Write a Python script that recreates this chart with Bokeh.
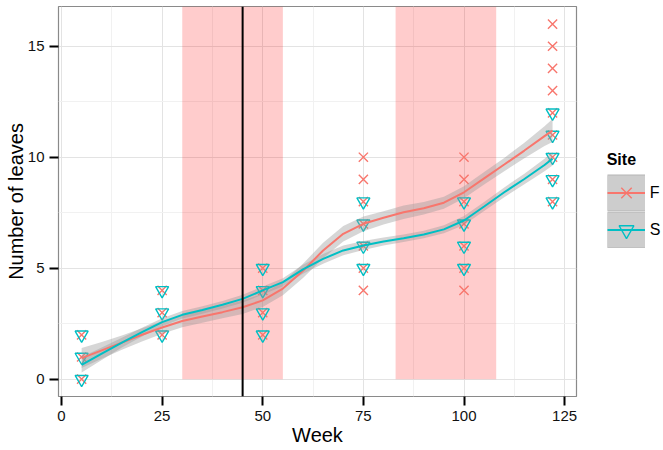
from bokeh.plotting import figure
from bokeh.layouts import row
from bokeh.models import Range1d, Span, Legend, LegendItem, FixedTicker
from bokeh.embed import file_html
from bokeh.resources import INLINE

# ---- data ----
f_week = [5, 5, 5,
          25, 25, 25,
          50, 50, 50, 50,
          75, 75, 75, 75, 75, 75, 75,
          100, 100, 100, 100, 100, 100, 100,
          122, 122, 122, 122, 122, 122, 122, 122, 122]
f_leaves = [0, 1, 2,
            2, 3, 4,
            2, 3, 4, 5,
            4, 5, 6, 7, 8, 9, 10,
            4, 5, 6, 7, 8, 9, 10,
            8, 9, 10, 11, 12, 13, 14, 15, 16]

s_week = [5, 5, 5,
          25, 25, 25,
          50, 50, 50, 50,
          75, 75, 75, 75,
          100, 100, 100, 100,
          122, 122, 122, 122, 122]
s_leaves = [0, 1, 2,
            2, 3, 4,
            2, 3, 4, 5,
            5, 6, 7, 8,
            5, 6, 7, 8,
            8, 9, 10, 11, 12]

smooth_week = [5, 10, 15, 20, 25, 30, 35, 40, 45, 50, 55, 60, 65, 70, 75,
               80, 85, 90, 95, 100, 105, 110, 115, 120, 122]
f_fit = [0.95, 1.30, 1.65, 2.00, 2.33, 2.62, 2.82, 3.02, 3.24, 3.55, 4.08, 4.88,
         5.80, 6.55, 7.00, 7.27, 7.52, 7.70, 7.95, 8.42, 9.05, 9.67, 10.30, 10.95, 11.20]
f_se = [0.45, 0.38, 0.32, 0.30, 0.28, 0.28, 0.28, 0.28, 0.30, 0.30, 0.30, 0.32,
        0.35, 0.35, 0.33, 0.30, 0.30, 0.28, 0.27, 0.27, 0.28, 0.30, 0.35, 0.45, 0.52]
s_fit = [0.65, 1.15, 1.65, 2.12, 2.57, 2.90, 3.12, 3.35, 3.62, 4.00, 4.37, 4.95,
         5.42, 5.80, 6.02, 6.20, 6.35, 6.52, 6.75, 7.15, 7.78, 8.42, 9.02, 9.65, 9.93]
s_se = [0.35, 0.28, 0.22, 0.20, 0.18, 0.17, 0.17, 0.17, 0.18, 0.18, 0.18, 0.20,
        0.22, 0.22, 0.20, 0.18, 0.17, 0.17, 0.18, 0.20, 0.20, 0.22, 0.24, 0.28, 0.30]

shade_start = [30, 83]
shade_end = [55, 108]
vline_week = 45

x_ticks = [0, 25, 50, 75, 100, 125]
y_ticks = [0, 5, 10, 15]
sites = ["F", "S"]

RED = "#F8766D"
TEAL = "#00BFC4"
FONT = "Liberation Sans"
NAN = float("nan")

y_lo, y_hi = -0.78, 16.79
p = figure(width=578, height=450, output_backend="svg", toolbar_location=None,
           x_range=Range1d(-0.745, 127.95), y_range=Range1d(y_lo, y_hi),
           min_border_left=58, min_border_right=2, min_border_top=6,
           min_border_bottom=54)

p.background_fill_color = "white"
p.border_fill_color = "white"
p.outline_line_color = "#8A8A8A"
p.outline_line_width = 1.2

# grid
p.xaxis.ticker = FixedTicker(ticks=x_ticks,
                             minor_ticks=[(a + b) / 2 for a, b in zip(x_ticks[:-1], x_ticks[1:])])
p.yaxis.ticker = FixedTicker(ticks=y_ticks,
                             minor_ticks=[(a + b) / 2 for a, b in zip(y_ticks[:-1], y_ticks[1:])])
for g in (p.xgrid, p.ygrid):
    g.grid_line_color = "#E3E3E3"
    g.grid_line_width = 1
    g.minor_grid_line_color = "#F1F1F1"
    g.minor_grid_line_width = 1

# axes
for ax in (p.xaxis, p.yaxis):
    ax.axis_line_color = None
    ax.major_tick_in = 0
    ax.major_tick_out = 9
    ax.major_tick_line_width = 2
    ax.major_tick_line_color = "black"
    ax.minor_tick_line_color = None
    ax.major_label_text_font = FONT
    ax.major_label_text_font_size = "15px"
    ax.major_label_text_color = "#111111"
    ax.axis_label_text_font = FONT
    ax.axis_label_text_font_size = "20px"
    ax.axis_label_text_font_style = "normal"
    ax.axis_label_text_color = "black"
p.xaxis.axis_label = "Week"
p.yaxis.axis_label = "Number of leaves"
p.xaxis.major_label_standoff = 5
p.xaxis.axis_label_standoff = 0
p.yaxis.major_label_standoff = 5
p.yaxis.axis_label_standoff = -2

# shaded periods
p.quad(left=shade_start, right=shade_end, bottom=0, top=y_hi,
       fill_color="red", fill_alpha=0.2, line_color=None)

# points
X_STYLE = dict(marker="x", size=13, line_color=RED, line_width=1.4)
T_STYLE = dict(marker="inverted_triangle", size=13, fill_color=None,
               line_color=TEAL, line_width=1.4)
p.scatter(f_week, f_leaves, **X_STYLE)
p.scatter(s_week, s_leaves, **T_STYLE)

# smooth bands and lines
f_lo = [m - e for m, e in zip(f_fit, f_se)]
f_hi = [m + e for m, e in zip(f_fit, f_se)]
s_lo = [m - e for m, e in zip(s_fit, s_se)]
s_hi = [m + e for m, e in zip(s_fit, s_se)]
p.varea(x=smooth_week, y1=f_lo, y2=f_hi, fill_color="#999999", fill_alpha=0.4)
p.varea(x=smooth_week, y1=s_lo, y2=s_hi, fill_color="#999999", fill_alpha=0.4)
p.line(smooth_week, f_fit, line_color=RED, line_width=2)
p.line(smooth_week, s_fit, line_color=TEAL, line_width=2)

# vertical marker
p.add_layout(Span(location=vline_week, dimension="height", line_color="black", line_width=2))

# ---- legend panel ----
q = figure(width=85, height=450, output_backend="svg", toolbar_location=None,
           x_range=Range1d(0, 1), y_range=Range1d(0, 1),
           x_axis_type=None, y_axis_type=None,
           min_border_left=0, min_border_right=0, min_border_top=0, min_border_bottom=0)
q.outline_line_color = None
q.background_fill_color = "white"
q.border_fill_color = "white"

items = []
for site, col, style in zip(sites, [RED, TEAL], [X_STYLE, T_STYLE]):
    k1 = q.line([NAN], [NAN], line_color="#B5B5B5", line_width=37)
    k2 = q.line([NAN], [NAN], line_color="#CDCDCD", line_width=35)
    ln = q.line([NAN], [NAN], line_color=col, line_width=2)
    mk = q.scatter([NAN], [NAN], **style)
    items.append(LegendItem(label=site, renderers=[k1, k2, ln, mk]))

legend = Legend(items=items, location=(28.7, 147.7))
legend.title = "Site"
legend.title_text_font = FONT
legend.title_text_font_style = "bold"
legend.title_text_font_size = "16px"
legend.title_text_color = "black"
legend.title_standoff = 5
legend.label_text_font = FONT
legend.label_text_font_size = "16px"
legend.label_text_color = "black"
legend.label_standoff = 5
legend.glyph_width = 38
legend.glyph_height = 37
legend.spacing = 0
legend.padding = 0
legend.margin = 0
legend.border_line_color = None
legend.background_fill_alpha = 0
q.add_layout(legend)

layout = row(p, q)
open("out.html", "w").write(file_html(layout, INLINE))
